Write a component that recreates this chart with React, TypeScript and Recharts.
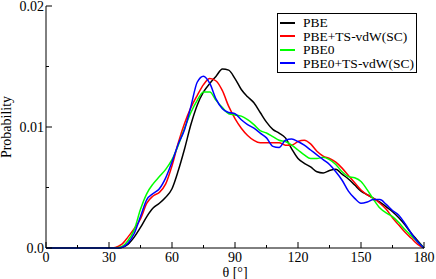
import { LineChart, Line, XAxis, YAxis, Legend, Label } from "recharts";

// θ grid (degrees)
const angles = [
  0, 30, 33, 36, 39, 42, 45, 48, 51, 54, 57, 60, 63, 66, 69, 72, 75, 78, 81, 84, 87, 90, 93, 96, 99, 102, 105, 108,
  111, 114, 117, 120, 123, 126, 129, 132, 135, 138, 141, 144, 147, 150, 153, 156, 159, 162, 165, 168, 171, 174, 177, 180,
];

const pbe = [
  0, 0, 0, 0.00005, 0.0003, 0.0009, 0.0017, 0.0026, 0.0033, 0.0037, 0.0042, 0.0049, 0.0064, 0.0082, 0.0102, 0.0118,
  0.0129, 0.0136, 0.0142, 0.0148, 0.0147, 0.014, 0.0131, 0.0125, 0.012, 0.0112, 0.0104, 0.0098, 0.0095, 0.0091, 0.0082,
  0.0074, 0.007, 0.0067, 0.0063, 0.0062, 0.0064, 0.0065, 0.0061, 0.0057, 0.0052, 0.0047, 0.0044, 0.0041, 0.0038, 0.0034,
  0.003, 0.0025, 0.0019, 0.0012, 0.0006, 0,
];

const pbeTs = [
  0, 0, 0.00005, 0.0003, 0.0009, 0.0016, 0.0024, 0.0037, 0.0043, 0.0046, 0.0053, 0.0068, 0.0087, 0.0103, 0.0116, 0.0126,
  0.0135, 0.014, 0.0138, 0.013, 0.0117, 0.0107, 0.0099, 0.0093, 0.0089, 0.0087, 0.0087, 0.0087, 0.0087, 0.0085, 0.0085,
  0.0088, 0.0089, 0.0086, 0.008, 0.0076, 0.0074, 0.0071, 0.0066, 0.006, 0.0054, 0.0048, 0.0044, 0.0041, 0.0037, 0.0032,
  0.0025, 0.0019, 0.0013, 0.0008, 0.0003, 0,
];

const pbe0 = [
  0, 0, 0, 0.0001, 0.0006, 0.0015, 0.0032, 0.0045, 0.0053, 0.0059, 0.0065, 0.0073, 0.0085, 0.0099, 0.0112, 0.0122,
  0.0129, 0.0129, 0.0122, 0.0116, 0.0111, 0.011, 0.0109, 0.0106, 0.0102, 0.0097, 0.0095, 0.0092, 0.0089, 0.0088, 0.0085,
  0.0081, 0.0077, 0.0074, 0.0074, 0.0075, 0.0073, 0.0069, 0.0063, 0.0059, 0.0058, 0.0055, 0.0048, 0.004, 0.0033, 0.0029,
  0.0026, 0.0021, 0.0015, 0.001, 0.0005, 0,
];

const pbe0Ts = [
  0, 0, 0, 0.00005, 0.0004, 0.0012, 0.0026, 0.004, 0.0045, 0.0049, 0.0058, 0.0071, 0.0086, 0.0098, 0.0117, 0.0137,
  0.0142, 0.0136, 0.0123, 0.0115, 0.0112, 0.0111, 0.0106, 0.0102, 0.0099, 0.0095, 0.0091, 0.0084, 0.0083, 0.0089, 0.009,
  0.0088, 0.0085, 0.0081, 0.0077, 0.0073, 0.0069, 0.0063, 0.0056, 0.0047, 0.0041, 0.0037, 0.0038, 0.004, 0.004, 0.0036,
  0.0031, 0.0027, 0.002, 0.0012, 0.0005, 0,
];

const seriesNames = ["PBE", "PBE+TS-vdW(SC)", "PBE0", "PBE0+TS-vdW(SC)"];
const seriesColors = ["#000000", "#ff0000", "#00ff00", "#0000ff"];
const seriesValues = [pbe, pbeTs, pbe0, pbe0Ts];

const xMajorTicks = [0, 30, 60, 90, 120, 150, 180];
const xTickLabels = ["0", "30", "60", "90", "120", "150", "180"];
const xMinorTicks = [15, 45, 75, 105, 135, 165];
const yMajorTicks = [0, 0.01, 0.02];
const yTickLabels = ["0.0", "0.01", "0.02"];
const yMinorTicks = [0.005, 0.015];

const data = angles.map((angle, i) => {
  const row: Record<string, number> = { angle };
  seriesValues.forEach((vals, k) => {
    row["s" + k] = vals[i];
  });
  return row;
});

const font = "'Liberation Serif', 'Times New Roman', serif";
const allX = [...xMajorTicks, ...xMinorTicks].sort((a, b) => a - b);
const allY = [...yMajorTicks, ...yMinorTicks].sort((a, b) => a - b);

const majorLen = 6;
const minorLen = 3;

function XTick(props: any, side: "bottom" | "top") {
  const { x, y, payload } = props;
  const idx = xMajorTicks.indexOf(payload.value);
  const len = idx >= 0 ? majorLen : minorLen;
  const dir = side === "bottom" ? -1 : 1;
  return (
    <g>
      <line x1={x} x2={x} y1={y} y2={y + dir * len} stroke="#000" strokeWidth={1} />
      {side === "bottom" && idx >= 0 && (
        <text x={x} y={y + 13.5} textAnchor="middle" fontFamily={font} fontSize={14} fill="#000">
          {xTickLabels[idx]}
        </text>
      )}
    </g>
  );
}

function YTick(props: any, side: "left" | "right") {
  const { x, y, payload } = props;
  const idx = yMajorTicks.indexOf(payload.value);
  const len = idx >= 0 ? majorLen : minorLen;
  const dir = side === "left" ? 1 : -1;
  return (
    <g>
      <line x1={x} x2={x + dir * len} y1={y} y2={y} stroke="#000" strokeWidth={1} />
      {side === "left" && idx >= 0 && (
        <text x={x - 2} y={y + 5} textAnchor="end" fontFamily={font} fontSize={14} fill="#000">
          {yTickLabels[idx]}
        </text>
      )}
    </g>
  );
}

function LegendBox(props: any) {
  const { payload } = props;
  return (
    <div
      style={{
        border: "1px solid #000",
        background: "#fff",
        padding: "2px 1px 2px 2px",
        fontFamily: font,
        fontSize: 13.5,
        lineHeight: "13.5px",
        width: 140,
        boxSizing: "border-box",
        whiteSpace: "nowrap",
      }}
    >
      {(payload || []).map((p: any) => (
        <div key={p.value} style={{ display: "flex", alignItems: "center", height: 13.5 }}>
          <span
            style={{ display: "inline-block", flex: "none", width: 15, height: 2, background: p.color, marginRight: 8 }}
          />
          <span style={{ color: "#000" }}>{p.value}</span>
        </div>
      ))}
    </div>
  );
}

export default function App() {
  return (
    <div style={{ position: "absolute", left: 0, top: 0, background: "#fff" }}>
      <LineChart width={436} height={279} data={data} margin={{ top: 6, right: 12, left: 0, bottom: 0 }}>
        <XAxis
          dataKey="angle"
          type="number"
          domain={[0, 180]}
          ticks={allX}
          interval={0}
          height={31}
          tickSize={0}
          tickMargin={0}
          tick={(p: any) => XTick(p, "bottom")}
          axisLine={{ stroke: "#000", strokeWidth: 1 }}
        >
          <Label
            content={(p: any) => {
              const vb = p.viewBox;
              return (
                <text x={vb.x + vb.width / 2} y={vb.y + 28.5} textAnchor="middle" fontFamily={font} fontSize={14} fill="#000">
                  θ [°]
                </text>
              );
            }}
          />
        </XAxis>
        <XAxis
          xAxisId="top"
          orientation="top"
          dataKey="angle"
          type="number"
          domain={[0, 180]}
          ticks={allX}
          interval={0}
          height={0}
          tickSize={0}
          tickMargin={0}
          tick={(p: any) => XTick(p, "top")}
          axisLine={{ stroke: "#000", strokeWidth: 1 }}
        />
        <YAxis
          type="number"
          domain={[0, 0.02]}
          ticks={allY}
          interval={0}
          width={46}
          tickSize={0}
          tickMargin={0}
          tick={(p: any) => YTick(p, "left")}
          axisLine={{ stroke: "#000", strokeWidth: 1 }}
        >
          <Label
            content={(p: any) => {
              const vb = p.viewBox;
              const cy = vb.y + vb.height / 2;
              return (
                <text
                  x={11}
                  y={cy}
                  transform={`rotate(-90, 11, ${cy})`}
                  textAnchor="middle"
                  fontFamily={font}
                  fontSize={14}
                  fill="#000"
                >
                  Probability
                </text>
              );
            }}
          />
        </YAxis>
        <YAxis
          yAxisId="right"
          orientation="right"
          type="number"
          domain={[0, 0.02]}
          ticks={allY}
          interval={0}
          width={0}
          tickSize={0}
          tickMargin={0}
          tick={(p: any) => YTick(p, "right")}
          axisLine={{ stroke: "#000", strokeWidth: 1 }}
        />
        <Legend
          layout="vertical"
          align="center"
          verticalAlign="middle"
          content={LegendBox}
          wrapperStyle={{ left: 277, top: 13, width: 140 }}
        />
        {seriesNames.map((name, k) => (
          <Line
            key={name}
            type="monotone"
            dataKey={"s" + k}
            name={name}
            stroke={seriesColors[k]}
            strokeWidth={1.5}
            dot={false}
            legendType="line"
            isAnimationActive={false}
          />
        ))}
      </LineChart>
    </div>
  );
}
